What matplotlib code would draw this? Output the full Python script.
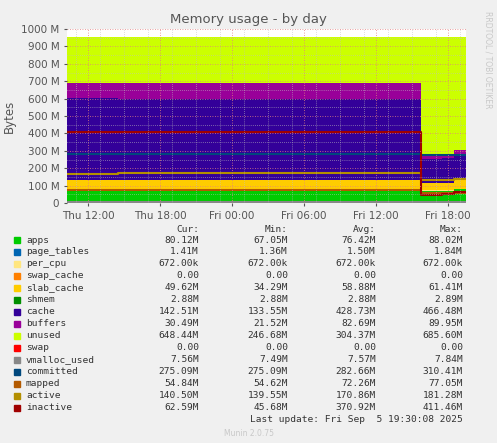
import matplotlib
matplotlib.use("Agg")
import matplotlib.pyplot as plt
import numpy as np

# time in hours since Thu 00:00
T = [10.25, 14.5, 39.75, 41.5, 42.5, 43.5]
apps        = [67, 67, 70, 70, 78, 80]
page_tables = [1.5, 1.5, 1.4, 1.4, 1.4, 1.4]
per_cpu     = [0.67]*6
swap_cache  = [0]*6
slab_cache  = [61, 61, 40, 42, 49.6, 49.6]
shmem       = [2.9]*6
cache       = [468, 466, 140, 140, 142.5, 142.5]
buffers     = [90, 90, 22, 22, 30.5, 30.5]
total       = [956]*6
swap        = [0]*6
vmalloc     = [7.5]*6
committed   = [280, 280, 275, 275, 275, 275]
mapped      = [72, 72, 55, 55, 55, 55]
active      = [165, 175, 130, 130, 140, 140]
inactive    = [410, 410, 45, 50, 62, 62]

names = ["apps","page_tables","per_cpu","swap_cache","slab_cache","shmem","cache","buffers","unused",
         "swap","vmalloc_used","committed","mapped","active","inactive"]
colors = ["#00CC00","#0066B3","#FFE680","#FF8000","#FFCC00","#008F00","#330099","#990099","#CCFF00",
          "#FF0000","#888888","#00487D","#B35A00","#B38F00","#A00000"]
cur = ["80.12M","1.41M","672.00k","0.00","49.62M","2.88M","142.51M","30.49M","648.44M","0.00","7.56M","275.09M","54.84M","140.50M","62.59M"]
mn  = ["67.05M","1.36M","672.00k","0.00","34.29M","2.88M","133.55M","21.52M","246.68M","0.00","7.49M","275.09M","54.62M","139.55M","45.68M"]
avg = ["76.42M","1.50M","672.00k","0.00","58.88M","2.88M","428.73M","82.69M","304.37M","0.00","7.57M","282.66M","72.26M","170.86M","370.92M"]
mx  = ["88.02M","1.84M","672.00k","0.00","61.41M","2.89M","466.48M","89.95M","685.60M","0.00","7.84M","310.41M","77.05M","181.28M","411.46M"]

fig = plt.figure(figsize=(4.97, 4.43), dpi=100, facecolor="#F0F0F0")
ax = fig.add_axes([67/497, 1-203/443, (466-67)/497, 174/443])
ax.set_facecolor("white")

stack = [apps, page_tables, per_cpu, swap_cache, slab_cache, shmem, cache, buffers]
base = np.zeros(len(T))
for vals, c in zip(stack, colors[:8]):
    v = np.array(vals, float)
    ax.fill_between(T, base, base+v, step="post", color=c, lw=0)
    base = base + v
unused = np.array(total, float) - base
ax.fill_between(T, base, base+unused, step="post", color=colors[8], lw=0)

for vals, c in zip([swap, vmalloc, committed, mapped, active, inactive], colors[9:]):
    ax.step(T, vals, where="post", color=c, lw=1.5)

ax.set_xlim(10.25, 43.5)
ax.set_ylim(0, 1000)
ax.set_yticks(np.arange(0, 1001, 100))
ax.set_yticklabels(["0"] + [f"{v} M" for v in range(100, 1001, 100)])
ax.set_xticks([12, 18, 24, 30, 36, 42])
ax.set_xticklabels(["Thu 12:00","Thu 18:00","Fri 00:00","Fri 06:00","Fri 12:00","Fri 18:00"])
ax.set_xticks(np.arange(11, 44, 2), minor=True)
ax.set_yticks(np.arange(0, 1001, 50), minor=True)
ax.grid(True, which="major", color="#E08080", ls=(0, (1, 2)), lw=0.6)
ax.grid(True, which="minor", color="#C0C0C0", ls=(0, (1, 2)), lw=0.5)
ax.set_axisbelow(False)
ax.tick_params(labelsize=7.5, colors="#555555", length=2)
ax.tick_params(which="minor", length=0)
for s in ax.spines.values():
    s.set_visible(False)
ax.set_ylabel("Bytes", fontsize=8.5, color="#555555")
fig.text(0.5, 1-19/443, "Memory usage - by day", ha="center", va="center", fontsize=9.5, color="#555555")
fig.text(488/497, 1-60/443, "RRDTOOL / TOBI OETIKER", rotation=270, ha="center", va="center", fontsize=5.5, color="#C8C8C8")

mono = "DejaVu Sans Mono"
fs = 6.8
for x, h in [(199, "Cur:"), (288, "Min:"), (376, "Avg:"), (463, "Max:")]:
    fig.text(x/497, 1-229/443, h, ha="right", va="center", family=mono, fontsize=fs, color="#333333")
for i, n in enumerate(names):
    y = 1-(240+i*11.98)/443
    fig.patches.append(plt.Rectangle((14/497, y-3/443), 6/497, 6/443, transform=fig.transFigure, color=colors[i]))
    fig.text(26/497, y, n, ha="left", va="center", family=mono, fontsize=fs, color="#333333")
    for x, col in [(199, cur), (288, mn), (376, avg), (463, mx)]:
        fig.text(x/497, y, col[i], ha="right", va="center", family=mono, fontsize=fs, color="#333333")
fig.text(463/497, 1-419/443, "Last update: Fri Sep  5 19:30:08 2025", ha="right", va="center", family=mono, fontsize=fs, color="#333333")
fig.text(249/497, 1-433/443, "Munin 2.0.75", ha="center", va="center", fontsize=5.5, color="#C8C8C8")

fig.savefig("out.png", dpi=100, facecolor=fig.get_facecolor())
